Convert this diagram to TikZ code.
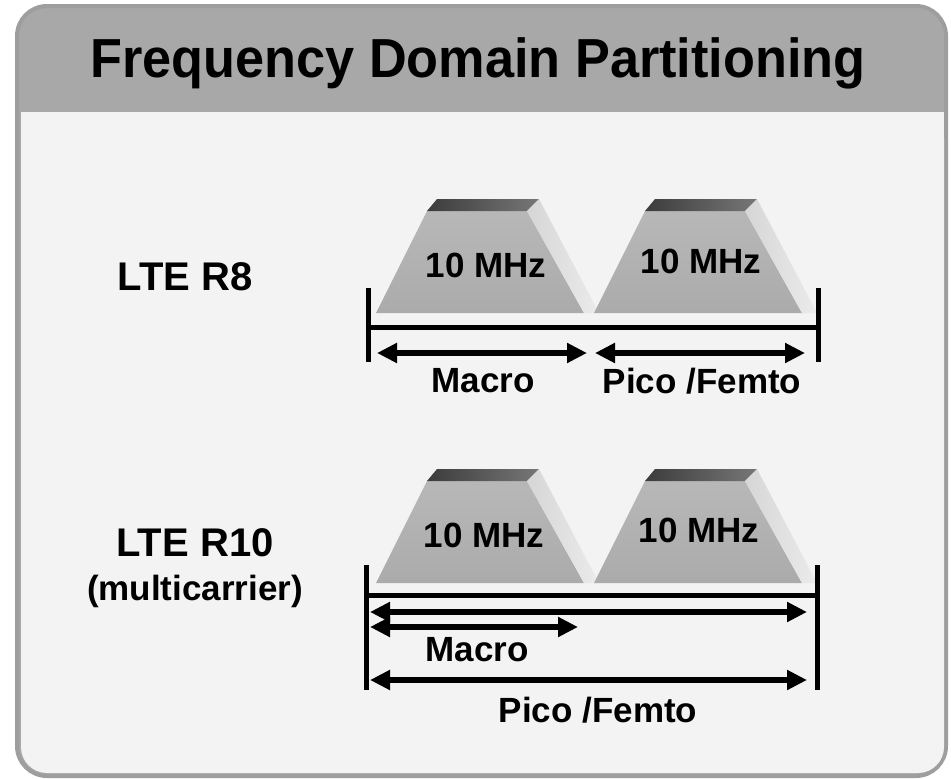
\documentclass[tikz,border=0pt]{standalone}
\usepackage{fontspec}
\setmainfont{Liberation Sans}
\usepackage{xcolor}
\usepackage{tikz}
\usetikzlibrary{arrows.meta,positioning}
\definecolor{FdpFrame}{HTML}{9E9E9E}
\definecolor{FdpHead}{HTML}{A8A8A8}
\definecolor{FdpBody}{HTML}{F3F3F3}
\definecolor{FdpFace}{HTML}{ABABAB}
\definecolor{FdpTop}{HTML}{3C3C3C}
\definecolor{FdpBevel}{HTML}{D6D6D6}
\tikzset{
  fdptitle/.style={font=\fontsize{55}{60}\selectfont\bfseries, inner sep=0pt, xscale=0.95},
  fdprow/.style={font=\fontsize{40}{44}\selectfont\bfseries, inner sep=0pt},
  fdpsub/.style={font=\fontsize{35}{40}\selectfont\bfseries, inner sep=0pt},
  fdplabel/.style={font=\fontsize{35}{40}\selectfont\bfseries, inner sep=0pt},
  fdptick/.style={line width=5pt, draw=black},
  fdpspan/.style={{Triangle[length=20pt,width=19pt]}-{Triangle[length=20pt,width=19pt]},
    line width=5.5pt, draw=black},
  pics/carrier/.style={code={
    % face, top strip and bevel of one 10 MHz block
    \shade[top color=FdpFace!85!white, bottom color=FdpFace]
      (0,0) -- (51,-102) -- (151,-102) -- (208,0) -- cycle;
    \shade[left color=FdpTop, right color=FdpTop!70!white]
      (51,-102) -- (61,-114) -- (163,-114) -- (151,-102) -- cycle;
    \shade[left color=FdpBevel, right color=FdpBevel!50!white]
      (151,-102) -- (163,-114) -- (223,0) -- (208,0) -- cycle;
  }}
}
\begin{document}
\begin{tikzpicture}[x=1pt, y=-1pt]
  \useasboundingbox (0,0) rectangle (951,779);
  % frame
  \draw[FdpFrame, line width=4pt, fill=FdpHead, rounded corners=30pt] (17,6) rectangle (946,776);
  \fill[FdpBody, rounded corners=26pt] (21,112) rectangle (944,773);
  \fill[FdpBody] (21,112) rectangle (944,160);
  \node[fdptitle] (title) at (478,63) {Frequency Domain Partitioning};

  % LTE R8
  \node[fdprow] (r8) at (185,277) {LTE R8};
  \pic at (376,313) {carrier};
  \pic at (594,313) {carrier};
  \node[fdplabel] (r8c1) at (486,265) {10 MHz};
  \node[fdplabel] (r8c2) at (701,261) {10 MHz};
  \coordinate (r8lt) at (368,288);
  \coordinate (r8lb) at (368,362);
  \coordinate (r8rt) at (818,288);
  \coordinate (r8rb) at (818,362);
  \coordinate (r8al) at (368,327);
  \coordinate (r8ar) at (818,327);
  \draw[fdptick] (r8lt) -- (r8lb);
  \draw[fdptick] (r8rt) -- (r8rb);
  \draw[fdptick] (r8al) -- (r8ar);
  \coordinate (r8m1) at (377,353);
  \coordinate (r8m2) at (587,353);
  \coordinate (r8p1) at (595,353);
  \coordinate (r8p2) at (805,353);
  \draw[fdpspan] (r8m1) -- (r8m2);
  \draw[fdpspan] (r8p1) -- (r8p2);
  \node[fdplabel] (r8mac) at (483,381) {Macro};
  \node[fdplabel] (r8pic) at (702,381) {Pico /Femto};

  % LTE R10
  \node[fdprow] (r10) at (195,543) {LTE R10};
  \node[fdpsub] (r10sub) at (195,591) {(multicarrier)};
  \pic at (376,583) {carrier};
  \pic at (594,583) {carrier};
  \node[fdplabel] (r10c1) at (484,535) {10 MHz};
  \node[fdplabel] (r10c2) at (699,530) {10 MHz};
  \coordinate (r10lt) at (366,565);
  \coordinate (r10lb) at (366,690);
  \coordinate (r10rt) at (817,565);
  \coordinate (r10rb) at (817,690);
  \coordinate (r10al) at (366,595);
  \coordinate (r10ar) at (817,595);
  \draw[fdptick] (r10lt) -- (r10lb);
  \draw[fdptick] (r10rt) -- (r10rb);
  \draw[fdptick] (r10al) -- (r10ar);
  \coordinate (r10w1) at (370,612);
  \coordinate (r10w2) at (807,612);
  \coordinate (r10m1) at (370,627);
  \coordinate (r10m2) at (578,627);
  \coordinate (r10p1) at (370,680);
  \coordinate (r10p2) at (807,680);
  \draw[fdpspan] (r10w1) -- (r10w2);
  \draw[fdpspan] (r10m1) -- (r10m2);
  \draw[fdpspan] (r10p1) -- (r10p2);
  \node[fdplabel] (r10mac) at (477,650) {Macro};
  \node[fdplabel] (r10pic) at (598,710) {Pico /Femto};
\end{tikzpicture}
\end{document}
